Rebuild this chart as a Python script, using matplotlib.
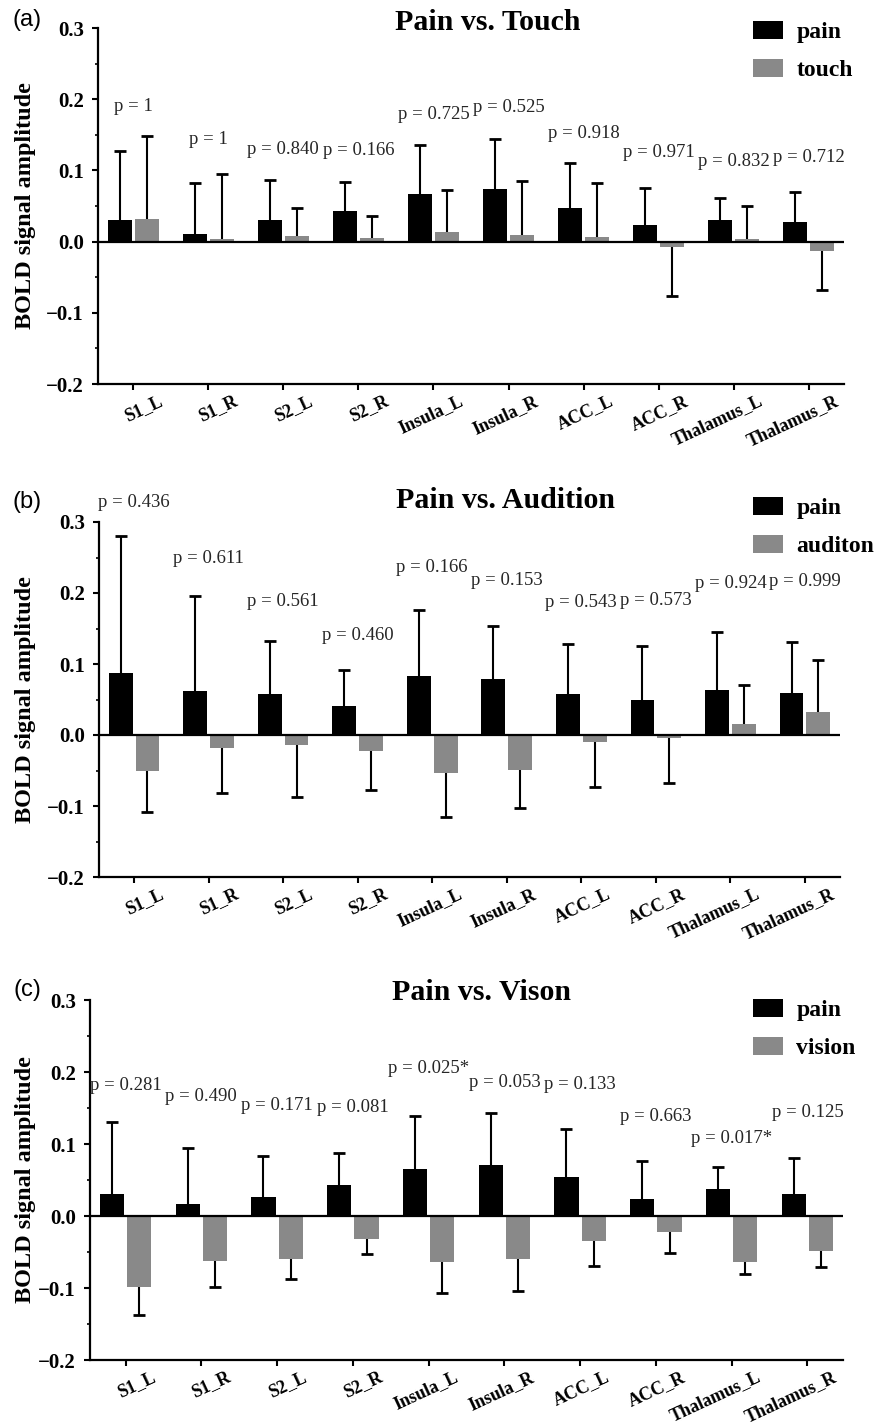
import numpy as np
import matplotlib
matplotlib.use("Agg")
import matplotlib.pyplot as plt
import matplotlib.transforms as mtransforms
from matplotlib.ticker import MultipleLocator, FuncFormatter

plt.rcParams['font.family'] = ['Liberation Serif', 'DejaVu Serif']

regions = ["S1_L", "S1_R", "S2_L", "S2_R", "Insula_L", "Insula_R",
           "ACC_L", "ACC_R", "Thalamus_L", "Thalamus_R"]

# (a) pain vs touch
pain_a = [0.030, 0.010, 0.031, 0.043, 0.067, 0.074, 0.047, 0.024, 0.031, 0.027]
pain_a_err = [0.0975, 0.072, 0.056, 0.041, 0.069, 0.0695, 0.064, 0.051, 0.030, 0.043]
touch = [0.032, 0.003, 0.008, 0.0056, 0.013, 0.009, 0.007, -0.007, 0.003, -0.0127]
touch_err = [0.116, 0.092, 0.039, 0.030, 0.059, 0.076, 0.0755, 0.069, 0.047, 0.055]
p_a = ["p = 1", "p = 1", "p = 0.840", "p = 0.166", "p = 0.725", "p = 0.525",
       "p = 0.918", "p = 0.971", "p = 0.832", "p = 0.712"]

# (b) pain vs audition
pain_b = [0.088, 0.062, 0.058, 0.041, 0.083, 0.079, 0.058, 0.049, 0.064, 0.059]
pain_b_err = [0.192, 0.134, 0.074, 0.050, 0.093, 0.075, 0.070, 0.077, 0.0815, 0.0725]
audition = [-0.051, -0.018, -0.014, -0.023, -0.054, -0.049, -0.010, -0.004, 0.016, 0.033]
audition_err = [0.058, 0.063, 0.074, 0.0545, 0.0615, 0.054, 0.063, 0.063, 0.055, 0.072]
p_b = ["p = 0.436", "p = 0.611", "p = 0.561", "p = 0.460", "p = 0.166", "p = 0.153",
       "p = 0.543", "p = 0.573", "p = 0.924", "p = 0.999"]

# (c) pain vs vision
pain_c = [0.031, 0.017, 0.026, 0.043, 0.065, 0.071, 0.054, 0.023, 0.037, 0.031]
pain_c_err = [0.099, 0.077, 0.057, 0.045, 0.074, 0.072, 0.067, 0.054, 0.031, 0.049]
vision = [-0.098, -0.062, -0.060, -0.032, -0.064, -0.060, -0.035, -0.022, -0.064, -0.049]
vision_err = [0.039, 0.036, 0.0275, 0.021, 0.043, 0.044, 0.035, 0.029, 0.017, 0.022]
p_c = ["p = 0.281", "p = 0.490", "p = 0.171", "p = 0.081", "p = 0.025*", "p = 0.053",
       "p = 0.133", "p = 0.663", "p = 0.017*", "p = 0.125"]

# heights of the p-value labels
p_a_y = [0.19, 0.143, 0.129, 0.128, 0.178, 0.189, 0.152, 0.125, 0.113, 0.118]
p_b_y = [0.328, 0.249, 0.188, 0.140, 0.236, 0.217, 0.187, 0.189, 0.214, 0.216]
p_c_y = [0.181, 0.166, 0.153, 0.150, 0.205, 0.185, 0.182, 0.138, 0.108, 0.144]

W, H = 875, 1424
fig = plt.figure(figsize=(W / 100, H / 100), dpi=100)

panels = [
    dict(tag="(a)", title="Pain vs. Touch", other="touch",
         pain=pain_a, perr=pain_a_err, oth=touch, oerr=touch_err, p=p_a, py=p_a_y,
         box=(98, 844, 28, 384), title_xy=(488, 22), leg_y=21, tag_y=20),
    dict(tag="(b)", title="Pain vs. Audition", other="auditon",
         pain=pain_b, perr=pain_b_err, oth=audition, oerr=audition_err, p=p_b, py=p_b_y,
         box=(99, 840, 522, 877), title_xy=(505, 500), leg_y=497, tag_y=502),
    dict(tag="(c)", title="Pain vs. Vison", other="vision",
         pain=pain_c, perr=pain_c_err, oth=vision, oerr=vision_err, p=p_c, py=p_c_y,
         box=(90, 843, 1000, 1360), title_xy=(481, 992), leg_y=999, tag_y=990),
]

x = np.arange(len(regions))
bw = 0.32
off = 0.18
grey = '#898989'
minus_fmt = FuncFormatter(lambda v, pos: f"{v:.1f}".replace("-", "\u2212"))

for pn in panels:
    l, r, t, b = pn['box']
    ax = fig.add_axes([l / W, 1 - b / H, (r - l) / W, (b - t) / H])

    pain = np.array(pn['pain'])
    oth = np.array(pn['oth'])
    h1 = ax.bar(x - off, pain, bw, color='black', label='pain', zorder=2)
    h2 = ax.bar(x + off, oth, bw, color=grey, label=pn['other'], zorder=2)

    # one-sided error bars pointing away from zero
    for xs, m, e in [(x - off, pain, np.array(pn['perr'])),
                     (x + off, oth, np.array(pn['oerr']))]:
        end = m + np.sign(m) * e
        ax.vlines(xs, m, end, colors='black', lw=1.5, zorder=3)
        ax.plot(xs, end, ls='none', marker='_', ms=8, mew=2, color='black', zorder=3)

    ax.axhline(0, color='black', lw=1.6, zorder=4)

    for i, (txt, yy) in enumerate(zip(pn['p'], pn['py'])):
        ax.text(i, yy, txt, ha='center', va='center', fontsize=13.5,
                color='#262626', clip_on=False)

    ax.set_xlim(-0.47, 9.47)
    ax.set_ylim(-0.2, 0.3)
    ax.yaxis.set_major_locator(MultipleLocator(0.1))
    ax.yaxis.set_minor_locator(MultipleLocator(0.05))
    ax.yaxis.set_major_formatter(minus_fmt)
    ax.set_xticks(x)
    ax.set_xticklabels([])

    # rotated category names, hung just right of each tick
    base = mtransforms.blended_transform_factory(ax.transData, ax.transAxes)
    shift = mtransforms.ScaledTranslation(0.25, -0.085, fig.dpi_scale_trans)
    for i, name in enumerate(regions):
        ax.text(i, 0, name, transform=base + shift, rotation=25,
                rotation_mode='anchor', ha='right', va='top',
                fontsize=13, fontweight='bold', clip_on=False)

    for lab in ax.get_yticklabels():
        lab.set_fontweight('bold')
        lab.set_fontsize(15)

    ax.tick_params(axis='both', which='major', direction='out', length=4,
                   width=1.5, color='black')
    ax.tick_params(axis='y', which='major', pad=6)
    ax.tick_params(axis='y', which='minor', direction='out', length=2.5, width=1.2)

    for s in ['top', 'right']:
        ax.spines[s].set_visible(False)
    for s in ['left', 'bottom']:
        ax.spines[s].set_linewidth(1.6)

    ax.set_ylabel("BOLD signal amplitude", fontsize=17.5, fontweight='bold')
    ax.yaxis.set_label_coords((36 - l) / (r - l), 0.5)

    tx, ty = pn['title_xy']
    fig.text(tx / W, 1 - ty / H, pn['title'], ha='center', va='center',
             fontsize=21.5, fontweight='bold')
    fig.text(27 / W, 1 - pn['tag_y'] / H, pn['tag'], ha='center', va='center',
             fontsize=17, family=['Liberation Sans', 'DejaVu Sans'])

    fig.legend(handles=[h1, h2], loc='upper left',
               bbox_to_anchor=(753 / W, 1 - pn['leg_y'] / H),
               bbox_transform=fig.transFigure, frameon=False,
               prop={'weight': 'bold', 'size': 17},
               handlelength=1.28, handleheight=0.8, handletextpad=0.55,
               labelspacing=0.65, borderpad=0, borderaxespad=0)

fig.savefig("out.png", dpi=100)
